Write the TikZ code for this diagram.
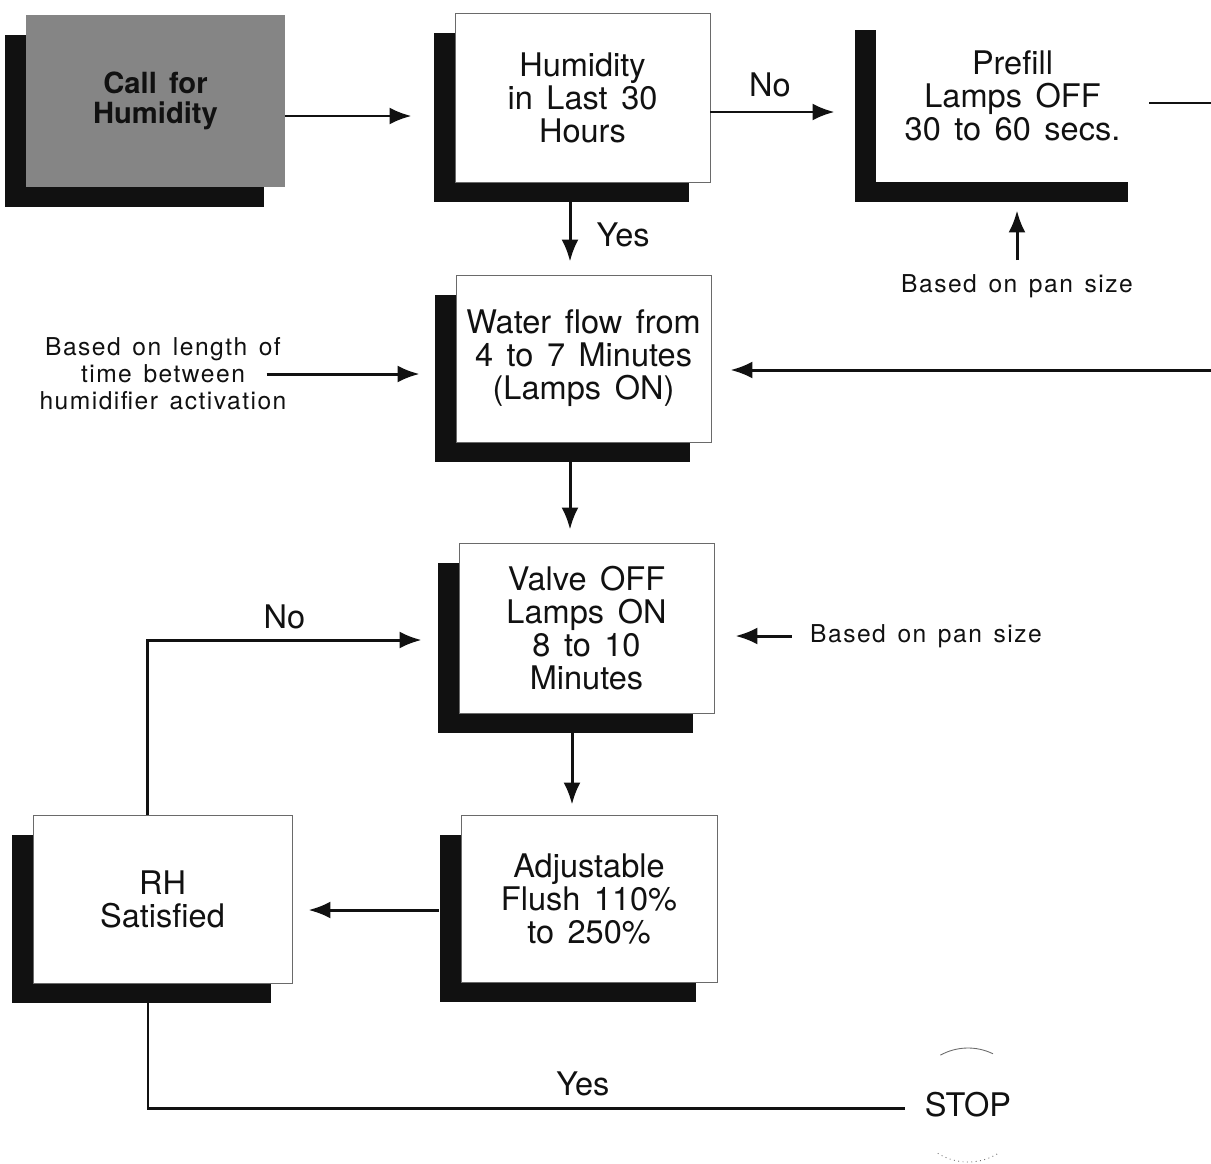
\documentclass[tikz,border=0pt]{standalone}
\usepackage{fontspec}
\setmainfont{TeX Gyre Heros}[WordSpace=1.5]
\newfontfamily\notefont{TeX Gyre Heros}[LetterSpace=6,WordSpace=1.4]
\usepackage{tikz}
\usetikzlibrary{arrows.meta,positioning,calc,shadows}
\definecolor{Ink}{HTML}{111111}
\definecolor{HalfTone}{HTML}{858585}
\definecolor{EdgeGray}{HTML}{6A6A6A}

\begin{document}
\begin{tikzpicture}[>={Latex[length=4.4mm,width=3.4mm]},
  flowbox/.style={draw=EdgeGray,line width=.5pt,fill=white,text=Ink,align=center,
    minimum width=5.1cm,minimum height=3.38cm,inner sep=0pt,
    font=\fontsize{18.5}{18.8}\selectfont,
    drop shadow={shadow xshift=-4.2mm,shadow yshift=-4mm,fill=Ink,opacity=1}},
  note/.style={text=Ink,align=center,inner sep=0pt,font=\notefont\fontsize{14}{15.4}\selectfont},
  tag/.style={text=Ink,inner sep=0pt,font=\fontsize{18.5}{18.8}\selectfont},
  flow/.style={->,Ink,line width=1.7pt},
  wire/.style={Ink,line width=1.7pt}]
  \useasboundingbox (0,0) rectangle (24.22,-23.26);

  % boxes
  \node[flowbox,draw=none,fill=HalfTone,minimum width=5.18cm,minimum height=3.44cm,
        font=\bfseries\fontsize{16.6}{17}\selectfont] (call) at (3.11,-2.02) {Call for\\Humidity};
  \node[flowbox] (hum) at (11.65,-1.95) {Humidity\\in Last 30\\Hours};
  \node[flowbox,draw=none,minimum width=5.46cm,minimum height=3.44cm] (prefill) at (20.25,-1.92)
        {Prefill\\Lamps OFF\\30 to 60 secs.};
  \node[flowbox,minimum height=3.34cm] (water) at (11.67,-7.17) {Water flow from\\4 to 7 Minutes\\(Lamps ON)};
  \node[flowbox,minimum height=3.4cm] (valve) at (11.73,-12.56) {Valve OFF\\Lamps ON\\8 to 10\\Minutes};
  \node[flowbox,minimum width=5.12cm,minimum height=3.34cm] (adj) at (11.78,-17.97)
        {Adjustable\\Flush 110\%\\to 250\%};
  \node[flowbox,minimum width=5.18cm,minimum height=3.36cm] (rh) at (3.25,-17.98) {RH\\Satisfied};

  % side notes
  \node[note] (lenlbl) at (3.26,-7.48) {Based on length of\\time between\\humidifier activation};
  \node[note] (pan1) at (20.34,-5.72) {Based on pan size};
  \node[note] (pan2) at (18.52,-12.72) {Based on pan size};
  \node[tag] (stop) at (19.36,-22.1) {STOP};
  \draw[EdgeGray,line width=.5pt] ([shift={(119:1.14)}]stop.center) arc (119:64:1.14);
  \draw[EdgeGray,line width=.5pt,dotted] ([shift={(-122:1.14)}]stop.center) arc (-122:-58:1.14);

  % main chain
  \coordinate (a1) at ([yshift=-3mm]call.east);
  \draw[flow,shorten >=8.6mm] (a1) -- (a1 -| hum.west);
  \coordinate (a2) at ([yshift=-2.9mm]hum.east);
  \draw[flow,shorten >=8.2mm] (a2) -- (a2 -| prefill.west) node[tag,pos=.36,above=2.8mm] {No};
  \coordinate (a3) at ([xshift=-2.5mm,yshift=-4mm]hum.south);
  \draw[flow,shorten >=2.6mm] (a3) -- (a3 |- water.north) node[tag,pos=.45,right=5mm] {Yes};
  \coordinate (a4) at ([xshift=-2.7mm,yshift=-4mm]water.south);
  \draw[flow,shorten >=2.6mm] (a4) -- (a4 |- valve.north);
  \coordinate (a5) at ([xshift=-2.9mm,yshift=-4mm]valve.south);
  \draw[flow,shorten >=2mm] (a5) -- (a5 |- adj.north);
  \coordinate (a6) at ([xshift=-4.4mm,yshift=-2.3mm]adj.west);
  \draw[flow,shorten >=3.2mm] (a6) -- (a6 -| rh.east);

  % prefill return, leaves the page on the right
  \coordinate (edgeA) at (24.22,-2.06);
  \coordinate (edgeB) at (24.22,-7.40);
  \draw[wire] ([yshift=-1.4mm]prefill.east) -- (edgeA);
  \draw[flow,shorten >=3.8mm] (edgeB) -- (edgeB -| water.east);

  % notes into boxes
  \draw[flow,shorten >=7.2mm] ([xshift=-4mm]lenlbl.east) -- (lenlbl.east -| water.west);
  \draw[flow,shorten >=5.6mm] ([yshift=2.8mm]pan1.north) -- (pan1.north |- prefill.south);
  \draw[flow,shorten >=4.2mm] ([xshift=-3.6mm]pan2.west) -- (pan2.west -| valve.east);

  % RH loop and exit
  \draw[flow,shorten >=7.4mm] ([xshift=-3mm]rh.north) |- ([yshift=-2.4mm]valve.west)
        node[tag,pos=.72,above=2mm] {No};
  \draw[wire,shorten >=4mm] ([xshift=-2.9mm,yshift=-4mm]rh.south) |- ([yshift=-.6mm]stop.west)
        node[tag,pos=.78,above=2.2mm] {Yes};
\end{tikzpicture}
\end{document}
